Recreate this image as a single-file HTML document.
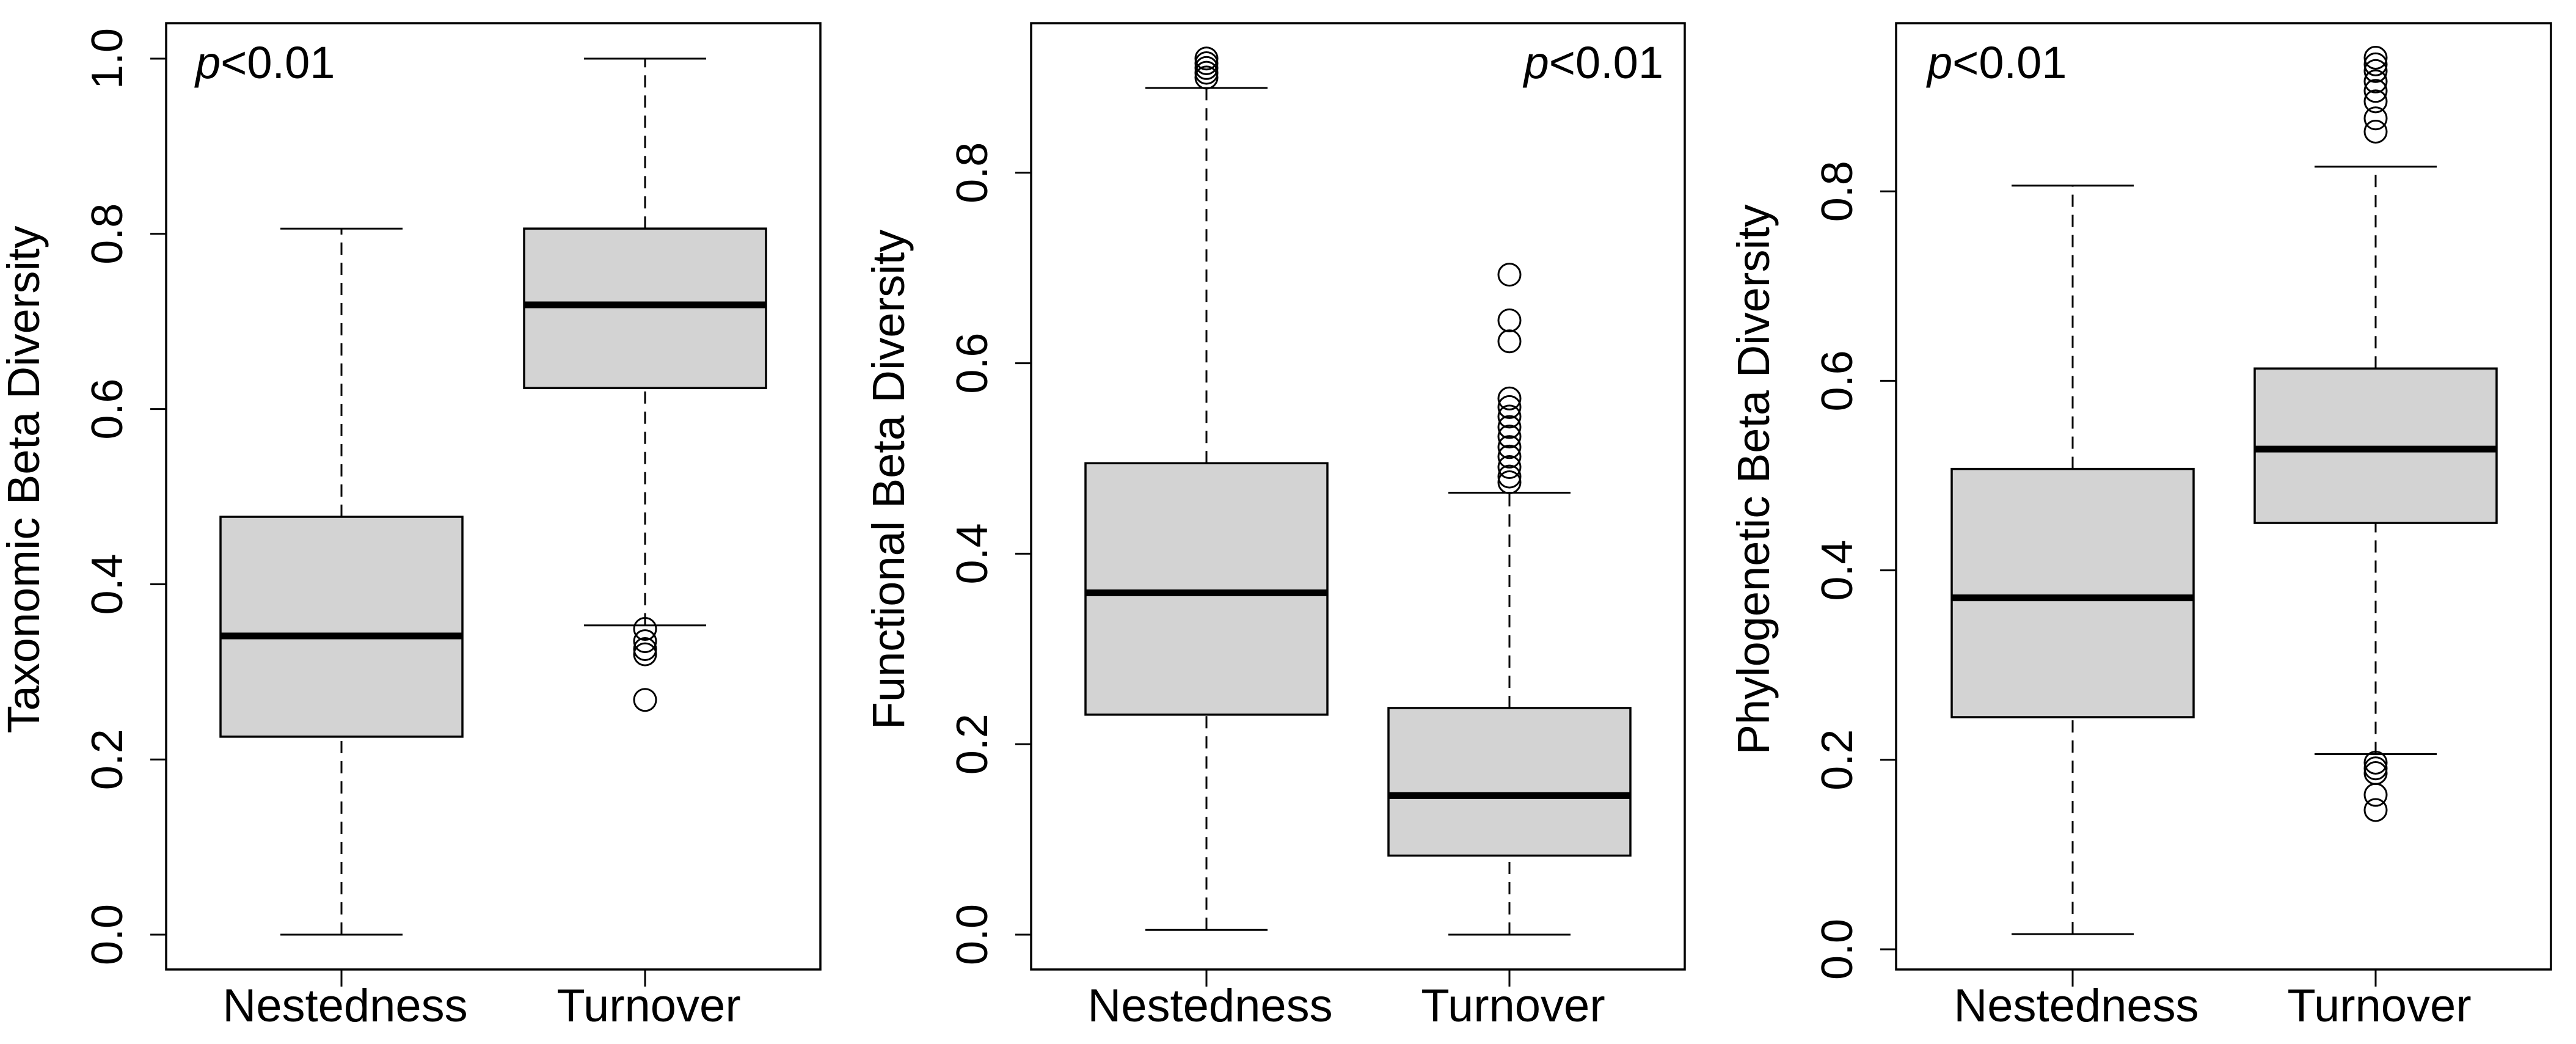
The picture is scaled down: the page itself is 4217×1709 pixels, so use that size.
<!DOCTYPE html>
<html><head><meta charset="utf-8"><style>
html,body{margin:0;padding:0;background:#fff;}
svg{display:block;font-family:"Liberation Sans",Arial,sans-serif;}
</style></head><body>
<svg id="fig" width="4217" height="1709" viewBox="0 0 4217 1709" xmlns="http://www.w3.org/2000/svg"></svg>
<script>
const categories = ["Nestedness", "Turnover"];
const panelTitles = ["Taxonomic Beta Diversity", "Functional Beta Diversity", "Phylogenetic Beta Diversity"];
const tickLabels1 = ["0.0","0.2","0.4","0.6","0.8","1.0"];
const tickLabels2 = ["0.0","0.2","0.4","0.6","0.8"];
const tickLabels3 = ["0.0","0.2","0.4","0.6","0.8"];
// [low whisker, Q1, median, Q3, high whisker]
const tax = [[0.0,0.226,0.341,0.477,0.806],[0.353,0.624,0.719,0.806,1.0]];
const taxOut = [[],[0.349,0.335,0.326,0.320,0.268]];
const fun = [[0.005,0.231,0.359,0.495,0.889],[0.0,0.083,0.146,0.238,0.464]];
const funOut = [[0.92,0.915,0.91,0.905,0.9],[0.693,0.645,0.623,0.563,0.554,0.544,0.533,0.523,0.512,0.502,0.491,0.481,0.475]];
const phy = [[0.016,0.245,0.371,0.507,0.806],[0.206,0.45,0.528,0.613,0.826]];
const phyOut = [[],[0.941,0.934,0.927,0.916,0.906,0.895,0.877,0.863,0.197,0.191,0.186,0.163,0.147]];
const pLabel = "<0.01";

const NS="http://www.w3.org/2000/svg";
const svgRoot=document.getElementById('fig');
function mk(tag,attrs,parent){const e=document.createElementNS(NS,tag);for(const k in attrs)e.setAttribute(k,attrs[k]);(parent||svgRoot).appendChild(e);return e;}

const panels=[
 {x0:272,x1:1343,y0Px:1530,unit:1434,ticks:tickLabels1,stats:tax,out:taxOut,title:panelTitles[0],cx:[559,1056],pX:320,pAnchor:"start"},
 {x0:1688,x1:2758,y0Px:1530,unit:1559,ticks:tickLabels2,stats:fun,out:funOut,title:panelTitles[1],cx:[1975,2471],pX:2723,pAnchor:"end"},
 {x0:3104,x1:4176,y0Px:1554,unit:1551,ticks:tickLabels3,stats:phy,out:phyOut,title:panelTitles[2],cx:[3393,3889],pX:3155,pAnchor:"start"}
];
const plotTop=38,plotBottom=1587,half=198,capHalf=100;

panels.forEach((p,pi)=>{
  const g=mk('g',{});
  
  
  const y=v=>p.y0Px-v*p.unit;
  p.stats.forEach((s,ci)=>{
    const cx=p.cx[ci];
    const bg=mk('g',{},g);
    
    
    const w1=mk('line',{x1:cx,x2:cx,y1:y(s[0]),y2:y(s[1]),stroke:'#000','stroke-width':3,'stroke-dasharray':'20,13'},bg);
    
    
    const w2=mk('line',{x1:cx,x2:cx,y1:y(s[3]),y2:y(s[4]),stroke:'#000','stroke-width':3,'stroke-dasharray':'20,13'},bg);
    
    
    const c1=mk('line',{x1:cx-capHalf,x2:cx+capHalf,y1:y(s[0]),y2:y(s[0]),stroke:'#000','stroke-width':3},bg);
    
    
    const c2=mk('line',{x1:cx-capHalf,x2:cx+capHalf,y1:y(s[4]),y2:y(s[4]),stroke:'#000','stroke-width':3},bg);
    
    
    const r=mk('rect',{x:cx-half,y:y(s[3]),width:2*half,height:y(s[1])-y(s[3]),fill:'#d3d3d3',stroke:'#000','stroke-width':3.5},bg);
    
    
    const m=mk('line',{x1:cx-half,x2:cx+half,y1:y(s[2]),y2:y(s[2]),stroke:'#000','stroke-width':11},bg);
    
    
    p.out[ci].forEach(v=>{
      const c=mk('circle',{cx:cx,cy:y(v),r:18,fill:'none',stroke:'#000','stroke-width':3},bg);
      
      
    });
    const xt=mk('line',{x1:cx,x2:cx,y1:plotBottom,y2:plotBottom+28,stroke:'#000','stroke-width':3},g);
    
    
    const xl=mk('text',{x:cx+6,y:1672,'text-anchor':'middle','font-size':76,fill:'#000'},g);
    xl.textContent=categories[ci];
    
    
  });
  const fr=mk('rect',{x:p.x0,y:plotTop,width:p.x1-p.x0,height:plotBottom-plotTop,fill:'none',stroke:'#000','stroke-width':3.5},g);
  
  
  p.ticks.forEach(t=>{
    const yy=y(parseFloat(t));
    const tl=mk('line',{x1:p.x0-26,x2:p.x0,y1:yy,y2:yy,stroke:'#000','stroke-width':3},g);
    
    
    const tx=mk('text',{x:0,y:0,'text-anchor':'middle','font-size':72,fill:'#000',transform:`translate(${p.x0-72},${yy}) rotate(-90)`},g);
    tx.textContent=t;
    
    
  });
  const tt=mk('text',{x:0,y:0,'text-anchor':'middle','font-size':74,fill:'#000',transform:`translate(${p.x0-208},785) rotate(-90)`},g);
  tt.textContent=p.title;
  
  
  const pt=mk('text',{x:p.pX,y:128,'text-anchor':p.pAnchor,'font-size':74,fill:'#000'},g);
  
  
  const ts=mk('tspan',{'font-style':'italic'},pt);ts.textContent='p';
  const ts2=mk('tspan',{},pt);ts2.textContent=pLabel;
});
</script>
</body></html>
